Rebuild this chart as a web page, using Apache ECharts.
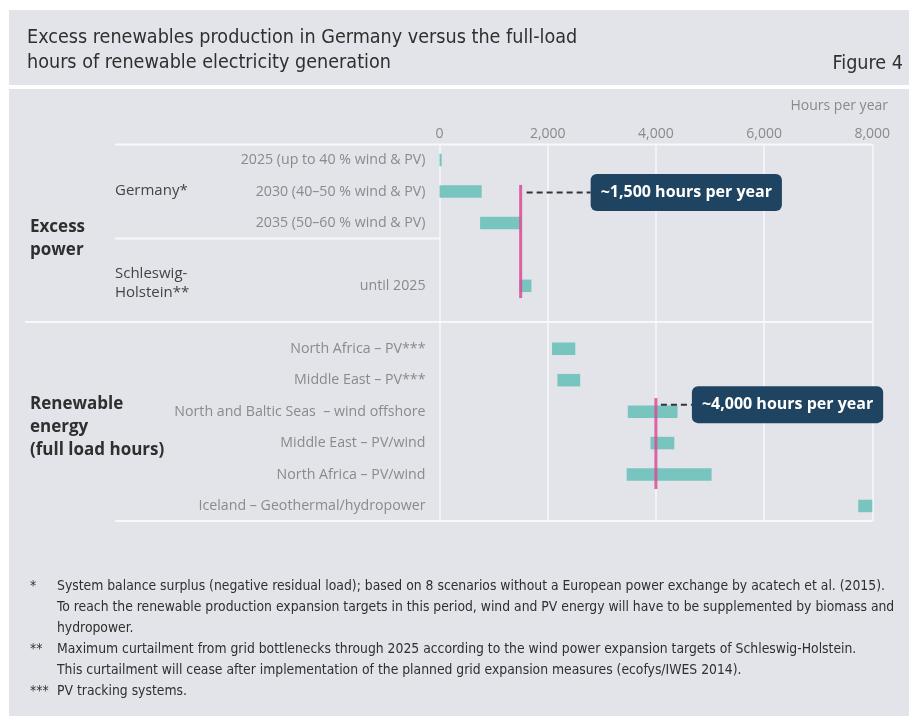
<!DOCTYPE html>
<html>
<head>
<meta charset="utf-8">
<title>Excess renewables production in Germany versus full-load hours</title>
<script src="https://cdn.jsdelivr.net/npm/echarts@6/dist/echarts.min.js"></script>
<style>
  html, body { margin: 0; padding: 0; background: #ffffff; overflow: hidden; }
  #chart { width: 909px; height: 716px; }
</style>
</head>
<body>
<div id="chart"></div>
<script>
// Rows of the chart, top to bottom; blank entries are spacer rows between groups.
const categories = [
  '2025 (up to 40 % wind & PV)',
  '2030 (40–50 % wind & PV)',
  '2035 (50–60 % wind & PV)',
  '',
  'until 2025',
  ' ',
  'North Africa – PV***',
  'Middle East – PV***',
  'North and Baltic Seas  – wind offshore',
  'Middle East – PV/wind',
  'North Africa – PV/wind',
  'Iceland – Geothermal/hydropower'
];

// Range of hours per year for each row (start and end of each bar).
const rangeStart = [0, 0, 750, null, 1480, null, 2080, 2180, 3480, 3900, 3460, 7740];
const rangeEnd   = [40, 780, 1500, null, 1700, null, 2510, 2600, 4400, 4340, 5030, 8000];

// Reference levels with the rows they span.
const refHours  = [1500, 4000];
const refLabels = ['~1,500 hours per year', '~4,000 hours per year'];
const refFromRow = [1, 8];
const refToRow   = [4, 10];

// Axis tick labels.
const hourTicks = ['0', '2,000', '4,000', '6,000', '8,000'];

// Footnotes.
const footnoteMarks = ['*', '', '', '**', '', '***'];
const footnoteLines = [
  'System balance surplus (negative residual load); based on 8 scenarios without a European power exchange by acatech et al. (2015).',
  'To reach the renewable production expansion targets in this period, wind and PV energy will have to be supplemented by biomass and',
  'hydropower.',
  'Maximum curtailment from grid bottlenecks through 2025 according to the wind power expansion targets of Schleswig-Holstein.',
  'This curtailment will cease after implementation of the planned grid expansion measures (ecofys/IWES 2014).',
  'PV tracking systems.'
];

// ---- layout / style ----
const BG = '#e3e4e9';
const TEAL = '#78c5bf';
const PINK = '#d84b95';
const NAVY = '#1f4461';
const LABEL_GREY = '#8a8a8c';
const DARK = '#2f2f2f';
const BODY_FONT = '"Open Sans", "Noto Sans", sans-serif';
const NARROW_FONT = '"Liberation Sans Narrow", "DejaVu Sans Condensed", sans-serif';

// Vertical extent of each reference line (fraction of a row band) and callout placement.
const refLayout = [
  { top: -0.21, bottom: 0.39, dy: 1, gap: 6, boxLeft: 70 },
  { top: -0.43, bottom: 0.46, dy: -7, gap: 5, boxLeft: 36 }
];

const rangeData = categories.map((c, i) =>
  rangeStart[i] == null ? null : [rangeStart[i], rangeEnd[i], i]
).filter(d => d !== null);

const refData = refHours.map((h, i) => [h, refFromRow[i], refToRow[i], i]);

const chart = echarts.init(document.getElementById('chart'), null, { renderer: 'canvas' });

const graphics = [];
// white margins and stripe under the title band
graphics.push({ type: 'rect', shape: { x: 0, y: 0, width: 909, height: 10 }, style: { fill: '#ffffff' }, silent: true });
graphics.push({ type: 'rect', shape: { x: 0, y: 0, width: 9, height: 716 }, style: { fill: '#ffffff' }, silent: true });
graphics.push({ type: 'rect', shape: { x: 0, y: 85, width: 909, height: 4 }, style: { fill: '#ffffff' }, silent: true });

// title
graphics.push({ type: 'text', left: 27, top: 28, style: { text: 'Excess renewables production in Germany versus the full-load', fill: DARK, font: '19.6px ' + NARROW_FONT } });
graphics.push({ type: 'text', left: 27, top: 53, style: { text: 'hours of renewable electricity generation', fill: DARK, font: '19.6px ' + NARROW_FONT } });
graphics.push({ type: 'text', right: 6, top: 54, style: { text: 'Figure 4', fill: DARK, font: '19.6px ' + NARROW_FONT } });

// axis caption
graphics.push({ type: 'text', right: 21, top: 99, style: { text: 'Hours per year', fill: LABEL_GREY, font: '14px ' + BODY_FONT } });

// table rules
const rule = (x1, y1, x2, y2) => ({ type: 'line', silent: true, z: 0,
  shape: { x1, y1, x2, y2 }, style: { stroke: '#f7f8fa', lineWidth: 2 } });
graphics.push(rule(115, 144.5, 872, 144.5));
graphics.push(rule(115, 238.5, 440, 238.5));
graphics.push(rule(25, 322, 872, 322));
graphics.push(rule(115, 521, 872, 521));

// group labels
graphics.push({ type: 'text', left: 30, top: 216, style: { text: 'Excess\npower', fill: DARK, font: 'bold 17px ' + BODY_FONT, lineHeight: 23 } });
graphics.push({ type: 'text', left: 115, top: 183, style: { text: 'Germany*', fill: '#444', font: '15px ' + BODY_FONT } });
graphics.push({ type: 'text', left: 115, top: 264, style: { text: 'Schleswig-\nHolstein**', fill: '#444', font: '15px ' + BODY_FONT, lineHeight: 19 } });
graphics.push({ type: 'text', left: 30, top: 393, style: { text: 'Renewable\nenergy\n(full load hours)', fill: DARK, font: 'bold 17px ' + BODY_FONT, lineHeight: 23 } });

// footnotes
footnoteLines.forEach((t, i) => {
  const y = 579 + i * 21;
  if (footnoteMarks[i]) {
    graphics.push({ type: 'text', left: 30, top: y, style: { text: footnoteMarks[i], fill: DARK, font: '13.8px ' + NARROW_FONT } });
  }
  graphics.push({ type: 'text', left: 57, top: y, style: { text: t, fill: DARK, font: '13.8px ' + NARROW_FONT } });
});

chart.setOption({
  backgroundColor: BG,
  animation: false,
  grid: { left: 439.5, top: 144.3, width: 432.8, height: 377.4 },
  xAxis: {
    type: 'value', position: 'top', min: 0, max: 8000, interval: 2000,
    axisLine: { show: false }, axisTick: { show: false },
    axisLabel: { color: LABEL_GREY, fontSize: 14, fontFamily: BODY_FONT, margin: 3,
      formatter: v => hourTicks[Math.round(v / 2000)] },
    splitLine: { lineStyle: { color: '#f7f8fa', width: 1.5 } }
  },
  yAxis: {
    type: 'category', inverse: true, data: categories,
    axisLine: { show: false }, axisTick: { show: false }, splitLine: { show: false },
    axisLabel: { color: LABEL_GREY, fontSize: 14.2, fontFamily: BODY_FONT, margin: 14 }
  },
  graphic: graphics,
  series: [
    {
      type: 'custom', name: 'range', z: 3,
      encode: { x: [0, 1], y: 2 },
      data: rangeData,
      renderItem: (params, api) => {
        const p0 = api.coord([api.value(0), api.value(2)]);
        const p1 = api.coord([api.value(1), api.value(2)]);
        const h = 12.5;
        return { type: 'rect',
          shape: { x: p0[0], y: p0[1] - h / 2, width: Math.max(p1[0] - p0[0], 1.5), height: h },
          style: { fill: TEAL } };
      }
    },
    {
      type: 'custom', name: 'reference', z: 5,
      encode: { x: 0, y: 1 },
      data: refData,
      renderItem: (params, api) => {
        const i = api.value(3);
        const lay = refLayout[i];
        const band = api.size([0, 1])[1];
        const a = api.coord([api.value(0), api.value(1)]);
        const b = api.coord([api.value(0), api.value(2)]);
        const x = a[0];
        const yTop = a[1] + lay.top * band;
        const yBot = b[1] + lay.bottom * band;
        const yc = a[1] + lay.dy;
        const boxX = x + lay.boxLeft;
        return { type: 'group', children: [
          { type: 'line', shape: { x1: x, y1: yTop, x2: x, y2: yBot },
            style: { stroke: PINK, lineWidth: 3, opacity: 0.85 } },
          { type: 'line', shape: { x1: x + lay.gap, y1: yc, x2: boxX, y2: yc },
            style: { stroke: '#333', lineWidth: 2, lineDash: [6, 4] } },
          { type: 'text', x: boxX, y: yc,
            style: { text: refLabels[i], fill: '#ffffff', font: 'bold 16px ' + BODY_FONT,
              verticalAlign: 'middle', align: 'left',
              backgroundColor: NAVY, borderRadius: 6, padding: [11, 10, 10, 10] } }
        ] };
      }
    }
  ]
});
</script>
</body>
</html>
